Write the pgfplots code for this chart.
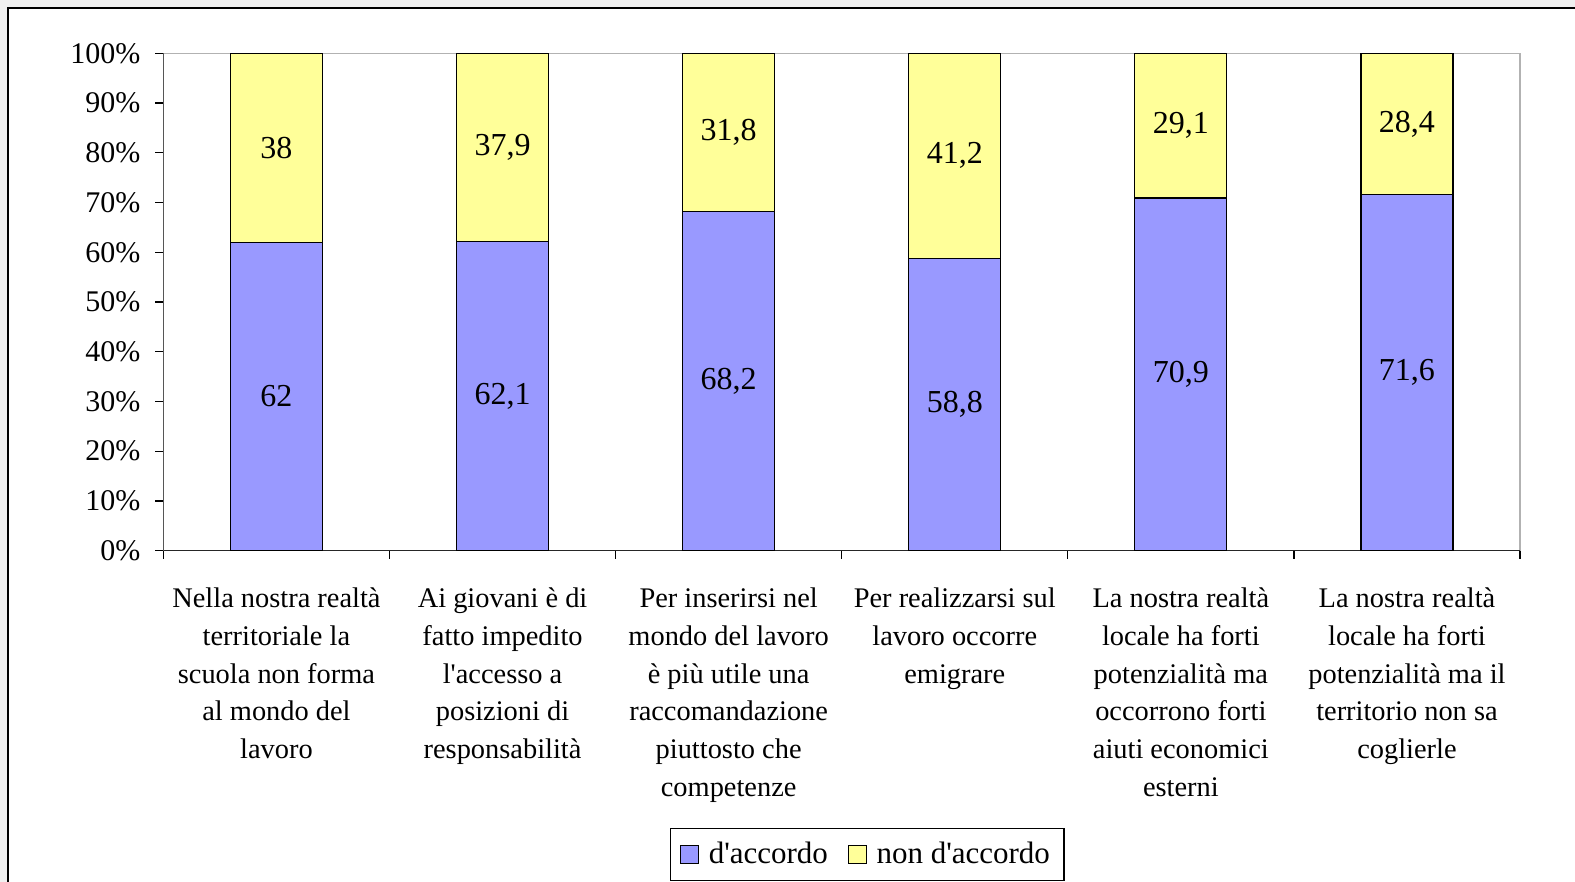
\documentclass[border=0pt]{standalone}
\usepackage{fontspec}
\setmainfont{Liberation Serif}
\usepackage{pgfplots}
\pgfplotsset{compat=1.18}
\definecolor{cblue}{HTML}{9999FF}
\definecolor{cyel}{HTML}{FFFF99}
\begin{document}
\begin{tikzpicture}
\fill[gray!12] (0,0) rectangle (4pt,441pt);
\fill[gray!12] (0,437pt) rectangle (787.5pt,441pt);
\draw[black, line width=0.8pt] (4pt,0) -- (4pt,437pt) -- (787.5pt,437pt);
\begin{axis}[
 at={(81.7pt,165.65pt)}, anchor=south west,
 scale only axis, width=678.3pt, height=248.7pt,
 ybar stacked, bar width=46pt,
 xmin=-0.5, xmax=5.5, ymin=0, ymax=100,
 xtick={-0.5,0.5,...,5.5}, xticklabels={},
 extra x ticks={0,1,2,3,4,5},
 extra x tick style={major tick length=0pt},
 extra x tick labels={
  {Nella nostra realtà\\territoriale la\\scuola non forma\\al mondo del\\lavoro},
  {Ai giovani è di\\fatto impedito\\l\textquotesingle accesso a\\posizioni di\\responsabilità},
  {Per inserirsi nel\\mondo del lavoro\\è più utile una\\raccomandazione\\piuttosto che\\competenze},
  {Per realizzarsi sul\\lavoro occorre\\emigrare},
  {La nostra realtà\\locale ha forti\\potenzialità ma\\occorrono forti\\aiuti economici\\esterni},
  {La nostra realtà\\locale ha forti\\potenzialità ma il\\territorio non sa\\coglierle}},
 xticklabel style={align=center, font=\fontsize{14.2}{18.9}\selectfont, anchor=north, yshift=-15pt},
 ytick={0,10,...,100},
 yticklabel={\pgfmathprintnumber{\tick}\%},
 yticklabel style={font=\fontsize{15}{18}\selectfont, xshift=-4pt},
 tick align=outside, major tick length=4pt,
 xtick pos=bottom, ytick pos=left,
 tick style={black, line width=0.6pt},
 axis line style={gray!60, line width=0.6pt},
 /pgf/number format/assume math mode=true,
 /pgf/number format/use comma,
 nodes near coords,
 every node near coord/.append style={anchor=center, font=\fontsize{16}{18}\selectfont},
 legend style={at={(0.5187,-0.611)}, anchor=center, legend columns=2, draw=black, line width=0.6pt, font=\fontsize{15.5}{18}\selectfont, inner xsep=5pt, inner ysep=5pt, /tikz/every even column/.append style={column sep=8pt}},
 legend image code/.code={\path[draw=none, fill=none] (0pt,0pt) -- (12pt,0pt); \draw[#1, draw=black, line width=0.6pt] (0pt,-4.5pt) rectangle (9pt,4.5pt);},
]
\addplot[fill=cblue, draw=black, line width=0.6pt] coordinates {(0,62) (1,62.1) (2,68.2) (3,58.8) (4,70.9) (5,71.6)};
\addplot[fill=cyel, draw=black, line width=0.6pt] coordinates {(0,38) (1,37.9) (2,31.8) (3,41.2) (4,29.1) (5,28.4)};
\legend{d\textquotesingle accordo, non d\textquotesingle accordo}
\draw[black!85, line width=0.8pt] (rel axis cs:0,1) -- (rel axis cs:0,0) -- (rel axis cs:1,0);
\end{axis}
\pgfresetboundingbox
\useasboundingbox (0,0) rectangle (787.5pt,441pt);
\end{tikzpicture}
\end{document}
